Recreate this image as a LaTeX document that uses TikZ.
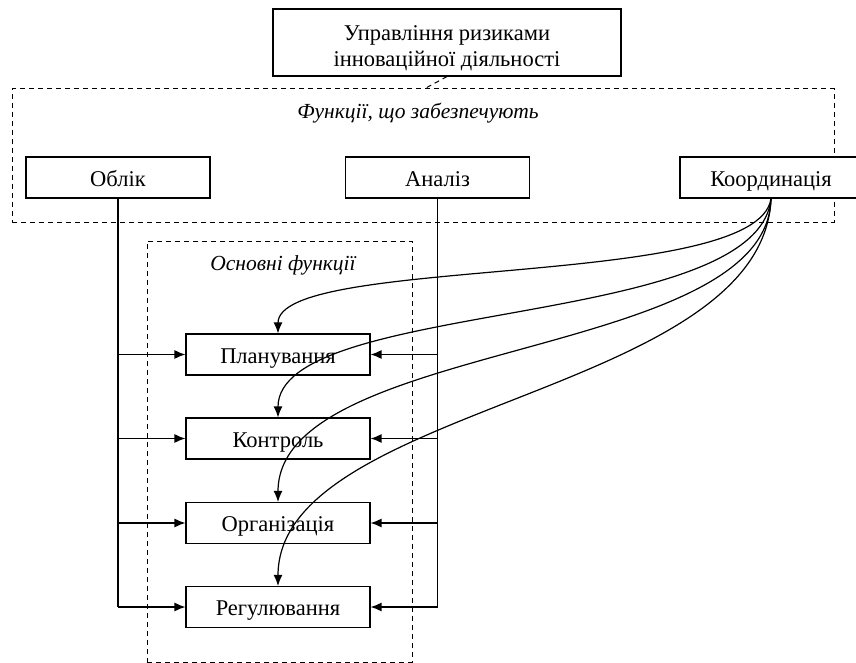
\documentclass[tikz,border=0pt]{standalone}
\usepackage{fontspec}
\setmainfont{Liberation Serif}
\usetikzlibrary{arrows.meta}
\begin{document}
\begin{tikzpicture}[x=1pt,y=-1pt,
  box/.style={draw,fill=white,line width=1.1pt,minimum height=41pt,minimum width=184pt,inner sep=0pt,
    text height=20pt,text depth=3pt,font=\fontsize{22.5}{26}\selectfont},
  txt/.style={inner sep=0pt,anchor=base,font=\fontsize{22.5}{26}\selectfont},
  frame/.style={draw,dash pattern=on 5pt off 4pt,line width=1pt,inner sep=0pt},
  lbl/.style={font=\fontsize{21.5}{26}\selectfont\itshape,inner sep=0pt},
  conn/.style={line width=1.3pt},
  arr/.style={conn,-{Latex[length=11pt,width=9pt]}},
  curv/.style={line width=1.2pt,-{Latex[length=11pt,width=9pt]}}]
\useasboundingbox (0,0) rectangle (856,663);
% frames
\node[frame,minimum width=822pt,minimum height=133pt] (f1) at (423,155.5) {};
\node[frame,minimum width=265pt,minimum height=421pt] (f2) at (279.5,451.5) {};
\node[lbl] (l1) at (418,113) {Функції, що забезпечують};
\node[lbl] (l2) at (283,265) {Основні функції};
% top box
\node[box,minimum width=348pt,minimum height=67pt,text height=,text depth=] (top) at (447,42.5) {};
\node[txt] (t1) at (447,41) {Управління ризиками};
\node[txt] (t2) at (447,67) {інноваційної діяльності};
\coordinate (d) at (424,89);
\draw[frame] (top.south) -- (d);
% function boxes
\node[box] (obl) at (118,177.5) {Облік};
\node[box] (an) at (437.5,177.5) {Аналіз};
\node[box,minimum width=182pt] (ko) at (771,177.5) {Координація};
% main functions
\node[box] (pl) at (278,354.5) {Планування};
\node[box] (kn) at (278,438.5) {Контроль};
\node[box] (org) at (278,523) {Організація};
\node[box] (reg) at (278,607) {Регулювання};
% left bus
\draw[conn] (obl.south) -- (obl.south |- reg.west);
\foreach \n in {pl,kn,org,reg} \draw[arr] (obl.south |- \n.west) -- (\n.west);
% right bus
\draw[conn] (an.south) -- (an.south |- reg.east);
\foreach \n in {pl,kn,org,reg} \draw[arr] (an.south |- \n.east) -- (\n.east);
% curves
\draw[curv] (ko.south) .. controls +(-13,92) and +(0,-79) .. (pl.north);
\draw[curv] (ko.south) .. controls +(-13,132) and +(0,-119) .. (kn.north);
\draw[curv] (ko.south) .. controls +(-3,162) and +(0,-163) .. (org.north);
\draw[curv] (ko.south) .. controls +(-8,197) and +(0,-182) .. (reg.north);
\end{tikzpicture}
\end{document}
